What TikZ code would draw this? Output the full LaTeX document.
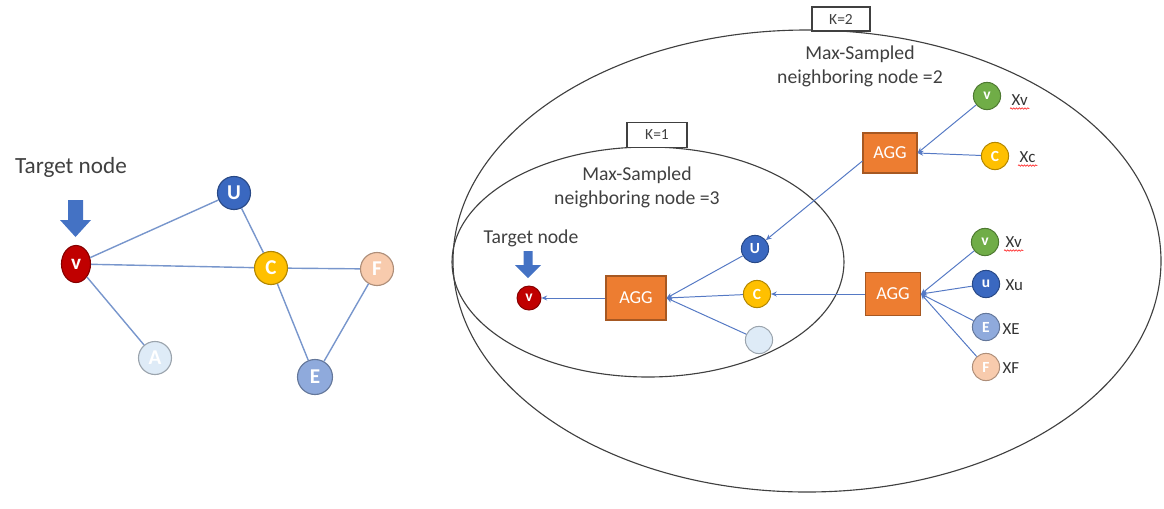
\documentclass[tikz,border=0pt]{standalone}
\usepackage{fontspec}
\setmainfont{Carlito}
\usetikzlibrary{arrows.meta,shapes.geometric,decorations.pathmorphing}

\definecolor{redv}{HTML}{C00000}
\definecolor{blueu}{HTML}{3A68C0}
\definecolor{goldc}{HTML}{FFC000}
\definecolor{peachf}{HTML}{F8CBAD}
\definecolor{lighta}{HTML}{DEEBF7}
\definecolor{bluee}{HTML}{8FAADC}
\definecolor{greenv}{HTML}{70AD47}
\definecolor{aggorange}{HTML}{ED7D31}
\definecolor{edgeblue}{HTML}{7896CC}
\definecolor{linkblue}{HTML}{5579C4}
\definecolor{pointer}{HTML}{4472C4}
\definecolor{inkgray}{HTML}{404040}

\tikzset{
  gnode/.style={circle, fill=#1, draw=#1!70!black, line width=0.8pt, text=white,
    inner sep=0pt, minimum size=0.825cm, font=\bfseries\fontsize{15}{15}\selectfont},
  rnode/.style={circle, fill=#1, draw=#1!70!black, line width=0.7pt, text=white,
    inner sep=0pt, minimum size=0.68cm, font=\bfseries\fontsize{11}{11}\selectfont},
  agg/.style={rectangle, fill=aggorange, draw=aggorange!70!black, line width=0.8pt,
    text=white, inner sep=0pt, font=\fontsize{13}{13}\selectfont},
  kbox/.style={rectangle, draw=inkgray, fill=white, line width=0.8pt, inner sep=0pt,
    minimum width=1.5cm, minimum height=0.6cm, text=inkgray, font=\fontsize{11}{11}\selectfont},
  note/.style={align=center, text=inkgray, inner sep=0pt, font=\fontsize{14}{17}\selectfont},
  xlab/.style={anchor=west, text=black!80, inner sep=1pt, font=\fontsize{12}{12}\selectfont},
  gedge/.style={draw=edgeblue, line width=1pt},
  aedge/.style={draw=linkblue, line width=0.7pt, -{Stealth[length=4pt,width=3.5pt]}},
  ring/.style={draw=inkgray, line width=0.8pt},
  spell/.style={draw=red!80, line width=0.5pt, decorate,
    decoration={snake, amplitude=0.5pt, segment length=2pt}}
}

\begin{document}
\begin{tikzpicture}[x=0.025cm, y=-0.025cm]
\useasboundingbox (0,0) rectangle (1164,508);

% left graph
\node[note, font=\fontsize{16.5}{17}\selectfont] (T) at (71,167) {Target node};
\fill[pointer] (68,200) -- (83,200) -- (83,220) -- (91,220) -- (75.5,237)
  -- (60,220) -- (68,220) -- cycle;
\node[gnode=redv, ellipse, minimum width=0.725cm, minimum height=0.925cm] (v) at (76,264) {v};
\node[gnode=blueu] (U) at (234,193) {U};
\node[gnode=goldc] (C) at (271,268) {C};
\node[gnode=peachf] (F) at (377,269) {F};
\node[gnode=lighta] (A) at (155,358) {A};
\node[gnode=bluee, minimum size=0.875cm] (E) at (315,377) {E};
\draw[gedge] (v) -- (U);
\draw[gedge] (v) -- (C);
\draw[gedge] (v) -- (A);
\draw[gedge] (U) -- (C);
\draw[gedge] (C) -- (F);
\draw[gedge] (C) -- (E);
\draw[gedge] (F) -- (E);

% the two sampling rings
\draw[ring] (807,261) ellipse [x radius=354, y radius=231];
\draw[ring] (648,262) ellipse [x radius=196, y radius=115];
\node[kbox, minimum width=1.45cm, minimum height=0.6cm] (K2) at (841,19) {K=2};
\node[kbox, minimum height=0.625cm] (K1) at (657,135) {K=1};
\node[note] (M2) at (860,66) {Max-Sampled\\neighboring node =2};
\node[note] (M1) at (637,187) {Max-Sampled\\neighboring node =3};

% k=1
\node[note] (T1) at (531,238) {Target node};
\fill[pointer] (523.5,251) -- (532.5,251) -- (532.5,265) -- (541,265) -- (528,278)
  -- (515,265) -- (523.5,265) -- cycle;
\node[rnode=redv, minimum size=0.6cm] (v1) at (529,298) {v};
\node[agg, minimum width=1.5cm, minimum height=1.1cm] (agg1) at (636,298) {AGG};
\node[rnode=blueu] (u1) at (755,249) {U};
\node[rnode=goldc] (c1) at (757,294) {C};
\node[rnode=lighta] (a1) at (759,340) {};
\draw[aedge] (u1) -- (agg1.east);
\draw[aedge] (c1) -- (agg1.east);
\draw[aedge] (a1) -- (agg1.east);
\draw[aedge] (agg1) -- (v1);

% k=2
\node[agg, minimum width=1.35cm, minimum height=1.0cm] (aggU) at (890,153) {AGG};
\node[agg, minimum width=1.375cm, minimum height=1.075cm] (aggL) at (893,294) {AGG};
\draw[aedge] ([yshift=-0.2cm]aggU.west) -- (u1);
\draw[aedge] (aggL) -- (c1);

\node[rnode=greenv] (v2) at (987,96) {v};
\node[rnode=goldc] (c2) at (995,156) {C};
\node[rnode=greenv] (v3) at (985,242) {v};
\node[rnode=blueu] (u3) at (986,284) {u};
\node[rnode=bluee] (e3) at (986,327) {E};
\node[rnode=peachf] (f3) at (986,367) {F};
\draw[aedge] (v2) -- (aggU.east);
\draw[aedge] (c2) -- (aggU.east);
\draw[aedge] (v3) -- (aggL.east);
\draw[aedge] (u3) -- (aggL.east);
\draw[aedge] (e3) -- (aggL.east);
\draw[aedge] (f3) -- (aggL.east);

\node[xlab] (xv2) at (1010,100) {Xv};
\node[xlab] (xc2) at (1018,157) {Xc};
\node[xlab] (xv3) at (1004,242) {Xv};
\node[xlab] (xu3) at (1004,285) {Xu};
\node[xlab] (xe3) at (1001,329) {XE};
\node[xlab] (xf3) at (1001,368) {XF};
\draw[spell] ([yshift=-1pt]xv2.south west) -- ([yshift=-1pt]xv2.south east);
\draw[spell] ([yshift=-1pt]xc2.south west) -- ([yshift=-1pt]xc2.south east);
\draw[spell] ([yshift=-1pt]xv3.south west) -- ([yshift=-1pt]xv3.south east);
\end{tikzpicture}
\end{document}
